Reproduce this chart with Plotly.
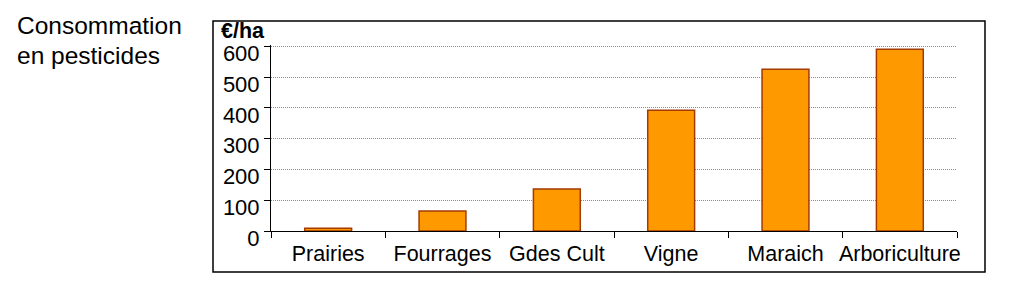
import plotly.graph_objects as go

# Pesticide spending per hectare by type of farming
categories = ["Prairies", "Fourrages", "Gdes Cult", "Vigne", "Maraich", "Arboriculture"]
spend_eur_per_ha = [9, 65, 136, 392, 525, 590]
y_ticks = [0, 100, 200, 300, 400, 500, 600]

FONT = "Arial, Liberation Sans, sans-serif"

fig = go.Figure(
    go.Bar(
        x=categories,
        y=spend_eur_per_ha,
        width=0.41,
        marker=dict(color="#FF9900", line=dict(color="#A33A00", width=1.5)),
        hoverinfo="x+y",
    )
)

PLOT_H = 186  # pixel height of the plotting area (top 45 → bottom 231)

fig.update_layout(
    width=1016,
    height=288,
    margin=dict(l=271, r=59, t=45, b=57),
    paper_bgcolor="white",
    plot_bgcolor="white",
    showlegend=False,
    font=dict(family=FONT, size=21, color="black"),
    bargap=0.59,
)

fig.update_xaxes(
    automargin=False,
    tickangle=0,
    showline=True,
    linecolor="black",
    linewidth=1,
    ticks="outside",
    tickson="boundaries",
    ticklen=6,
    tickcolor="black",
    showgrid=False,
    ticklabelstandoff=3,
    tickfont=dict(family=FONT, size=21.5, color="black"),
)

fig.update_yaxes(
    automargin=False,
    range=[0, 604],
    tickvals=y_ticks,
    showline=True,
    linecolor="black",
    linewidth=1,
    ticks="outside",
    ticklen=6,
    tickcolor="black",
    ticklabelshift=7,
    showgrid=True,
    gridcolor="#8c8c8c",
    gridwidth=1,
    griddash="1px,1px",
    zeroline=False,
    tickfont=dict(family=FONT, size=22, color="black"),
)

# Frame around the chart block
fig.add_shape(
    type="rect", xref="paper", yref="paper",
    x0=(213 - 271) / 686, x1=(985 - 271) / 686,
    y0=(231 - 272) / PLOT_H, y1=(231 - 21) / PLOT_H,
    line=dict(color="black", width=1.5),
    fillcolor="rgba(0,0,0,0)",
    layer="below",
)

# Unit label above the value axis
fig.add_annotation(
    text="<b>€/ha</b>", xref="paper", yref="paper",
    x=(219 - 271) / 686, y=(231 - 31) / PLOT_H,
    xanchor="left", yanchor="middle", showarrow=False,
    font=dict(family=FONT, size=21.5, color="black"),
)

# Two-line caption at the top left
for line, ypix in (("Consommation", 25), ("en pesticides", 56)):
    fig.add_annotation(
        text=line, xref="paper", yref="paper",
        x=(15 - 271) / 686, y=(231 - ypix) / PLOT_H,
        xanchor="left", yanchor="middle", showarrow=False,
        font=dict(family=FONT, size=24.5, color="black"),
    )

fig.write_html("out.html")
